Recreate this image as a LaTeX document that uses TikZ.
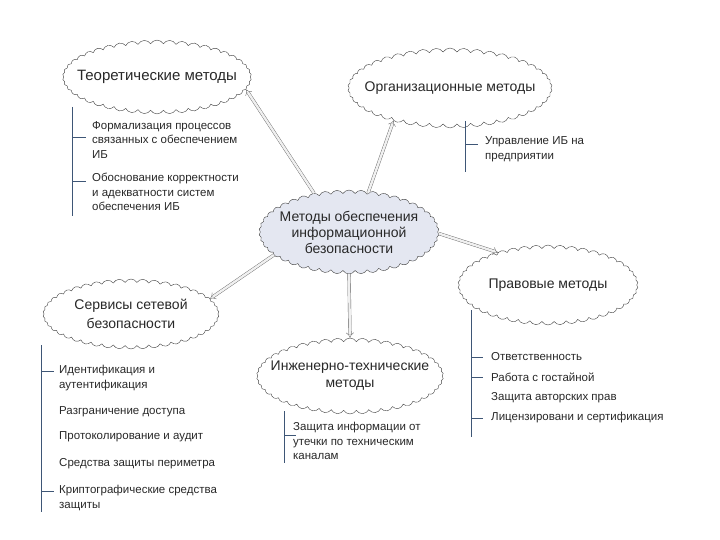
\documentclass[tikz,border=0pt]{standalone}
\usepackage{fontspec}
\setmainfont{Liberation Sans}
\usetikzlibrary{shapes.symbols,arrows.meta}
\definecolor{cloudblue}{RGB}{228,231,241}
\definecolor{branchblue}{RGB}{62,86,118}
\definecolor{textgray}{RGB}{40,40,40}

\begin{document}
\begin{tikzpicture}[x=1pt,y=-1pt,
	methodcloud/.style={cloud,draw=black!75,fill=white,cloud puffs=46,cloud puff arc=120,
		aspect=2.8,inner xsep=-14pt,inner ysep=-6pt,align=center,text=textgray,
		font=\fontsize{14}{17}\selectfont},
	itemtext/.style={anchor=west,align=left,inner sep=0pt,text=textgray,font=\fontsize{11.5}{14.5}\selectfont},
	hollowarrow/.style={draw=black!60,double=black!6,double distance=2.4pt,-{Implies}},
	branchline/.style={draw=branchblue,line width=0.5pt}]
\useasboundingbox (0,0) rectangle (720,540);

% clouds
\node[methodcloud,minimum width=180pt,minimum height=66pt,
	font=\fontsize{15}{17}\selectfont] (theo) at (157,77) {Теоретические методы};
\node[methodcloud,minimum width=182pt,minimum height=65pt] (org) at (450,88) {Организационные методы};
\node[methodcloud,fill=cloudblue,minimum width=180pt,minimum height=84pt,
	font=\fontsize{14}{16}\selectfont] (main) at (349,232) {Методы обеспечения\\информационной\\безопасности};
\node[methodcloud,minimum width=180pt,minimum height=80pt] (legal) at (548,285) {Правовые методы};
\node[methodcloud,minimum width=176pt,minimum height=70pt,
	font=\fontsize{14}{19}\selectfont] (net) at (131,314) {Сервисы сетевой\\безопасности};
\node[methodcloud,minimum width=178pt,minimum height=76pt] (eng) at (350,376) {Инженерно-технические\\методы};

% arrows from the centre
\draw[hollowarrow] (main.132) -- (theo.-8);
\draw[hollowarrow] (main.64) -- (org.-150);
\draw[hollowarrow] (main.-1) -- (legal.147);
\draw[hollowarrow] (main.-163) -- (net.11);
\draw[hollowarrow] (main.-90) -- (eng.90);

% theoretical
\coordinate (theotop) at (72,107);
\coordinate (theoend) at (72,216);
\draw[branchline] (theotop) -- (theoend);
\node[itemtext] (theoa) at (92,140) {Формализация процессов\\связанных с обеспечением\\ИБ};
\node[itemtext] (theob) at (92,192) {Обоснование корректности\\и адекватности систем\\обеспечения ИБ};
\draw[branchline] ([yshift=3pt]theoa.west -| theoend) -- ++(14,0);
\draw[branchline] ([yshift=11pt]theob.west -| theoend) -- ++(14,0);

% organizational
\coordinate (orgtop) at (465,121);
\coordinate (orgend) at (465,172);
\draw[branchline] (orgtop) -- (orgend);
\node[itemtext] (orga) at (485,149) {Управление ИБ на\\предприятии};
\draw[branchline] ([yshift=5pt]orga.west -| orgend) -- ++(13,0);

% network services
\coordinate (nettop) at (41,345);
\coordinate (netend) at (41,512);
\draw[branchline] (nettop) -- (netend);
\foreach \i/\ty/\txt in {a/378/{Идентификация и\\аутентификация},b/412/{Разграничение доступа},
	c/437/{Протоколирование и аудит},d/464/{Средства защиты периметра},
	e/498/{Криптографические средства\\защиты}}
	\node[itemtext] (net\i) at (59,\ty) {\txt};
\foreach \i in {a,e}
	\draw[branchline] ([yshift=7pt]net\i.west -| netend) -- ++(13,0);

% engineering
\coordinate (engtop) at (284,411);
\coordinate (engend) at (284,463);
\draw[branchline] (engtop) -- (engend);
\node[itemtext] (enga) at (293,441) {Защита информации от\\утечки по техническим\\каналам};
\draw[branchline] ([yshift=6pt]enga.west -| engend) -- ++(12,0);

% legal
\coordinate (legaltop) at (471,310);
\coordinate (legalend) at (471,437);
\draw[branchline] (legaltop) -- (legalend);
\foreach \i/\ty/\txt in {a/357/Ответственность,b/377/Работа с гостайной,
	c/398/Защита авторских прав,d/418/Лицензировани и сертификация}
	\node[itemtext] (legal\i) at (491,\ty) {\txt};
\foreach \i in {a,b,d}
	\draw[branchline] (legal\i.west -| legalend) -- ++(12,0);
\end{tikzpicture}
\end{document}
